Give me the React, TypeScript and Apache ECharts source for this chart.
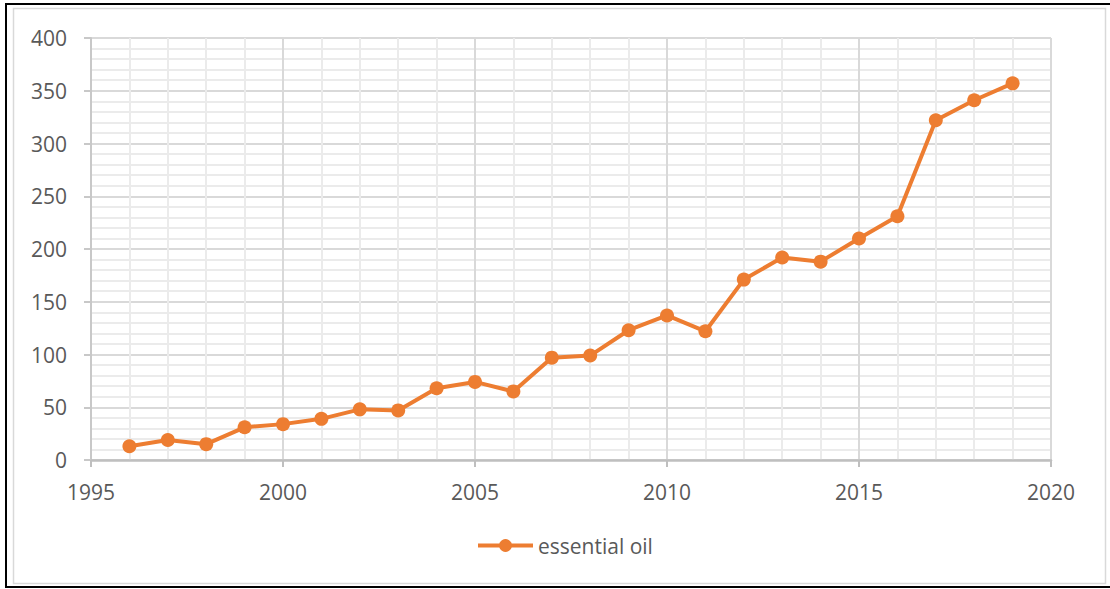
import React, { useEffect, useRef } from "react";
import * as echarts from "echarts";

const years = [1996, 1997, 1998, 1999, 2000, 2001, 2002, 2003, 2004, 2005, 2006, 2007, 2008, 2009, 2010, 2011, 2012, 2013, 2014, 2015, 2016, 2017, 2018, 2019];
const essentialOil = [13, 19, 15, 31, 34, 39, 48, 47, 68, 74, 65, 97, 99, 123, 137, 122, 171, 192, 188, 210, 231, 322, 341, 357];
const seriesName = "essential oil";

export default function App() {
  const ref = useRef<HTMLDivElement>(null);
  useEffect(() => {
    const chart = echarts.init(ref.current!, null, { renderer: "svg" });
    const textColor = "#595959";
    const font = "Open Sans";
    chart.setOption({
      animation: false,
      backgroundColor: "#ffffff",
      textStyle: { fontFamily: font },
      graphic: [
        { type: "rect", shape: { x: 13.5, y: 8.5, width: 1092, height: 575 }, style: { fill: "none", stroke: "#D9D9D9", lineWidth: 1.5 }, silent: true },
        { type: "rect", shape: { x: 6, y: 4, width: 1110, height: 583 }, style: { fill: "none", stroke: "#000000", lineWidth: 2 }, silent: true },
      ],
      grid: { left: 91, right: 59, top: 38, bottom: 129, containLabel: false },
      legend: {
        left: 476,
        top: 535,
        padding: 0,
        itemWidth: 55,
        itemHeight: 16,
        itemGap: 6,
        lineStyle: { width: 4 },
        textStyle: { color: textColor, fontSize: 21, fontFamily: font },
        data: [seriesName],
      },
      xAxis: {
        type: "value",
        min: 1995,
        max: 2020,
        interval: 5,
        axisLine: { show: true, lineStyle: { color: "#BFBFBF", width: 2.5 } },
        axisTick: { show: true, length: 7, lineStyle: { color: "#BFBFBF", width: 2 } },
        axisLabel: { color: textColor, fontSize: 21, margin: 21, fontFamily: font, formatter: (v: number) => String(v) },
        splitLine: { show: true, lineStyle: { color: "#D9D9D9", width: 2 } },
        minorTick: { show: false, splitNumber: 5 },
        minorSplitLine: { show: true, lineStyle: { color: "#EBEBEB", width: 2 } },
      },
      yAxis: {
        type: "value",
        min: 0,
        max: 400,
        interval: 50,
        axisLine: { show: true, lineStyle: { color: "#C8C8C8", width: 2 } },
        axisTick: { show: true, length: 7, lineStyle: { color: "#C8C8C8", width: 2 } },
        axisLabel: { color: textColor, fontSize: 21, margin: 24, fontFamily: font },
        splitLine: { show: true, lineStyle: { color: "#D9D9D9", width: 2 } },
        minorTick: { show: false, splitNumber: 5 },
        minorSplitLine: { show: true, lineStyle: { color: "#EBEBEB", width: 2 } },
      },
      series: [
        {
          name: seriesName,
          type: "line",
          data: years.map((y, i) => [y, essentialOil[i]]),
          symbol: "circle",
          symbolSize: 14,
          showAllSymbol: true,
          lineStyle: { color: "#ED7D31", width: 4 },
          itemStyle: { color: "#ED7D31" },
        },
      ],
    });
    return () => chart.dispose();
  }, []);
  return <div ref={ref} style={{ position: "fixed", left: 0, top: 0, width: 1110, height: 589 }} />;
}
